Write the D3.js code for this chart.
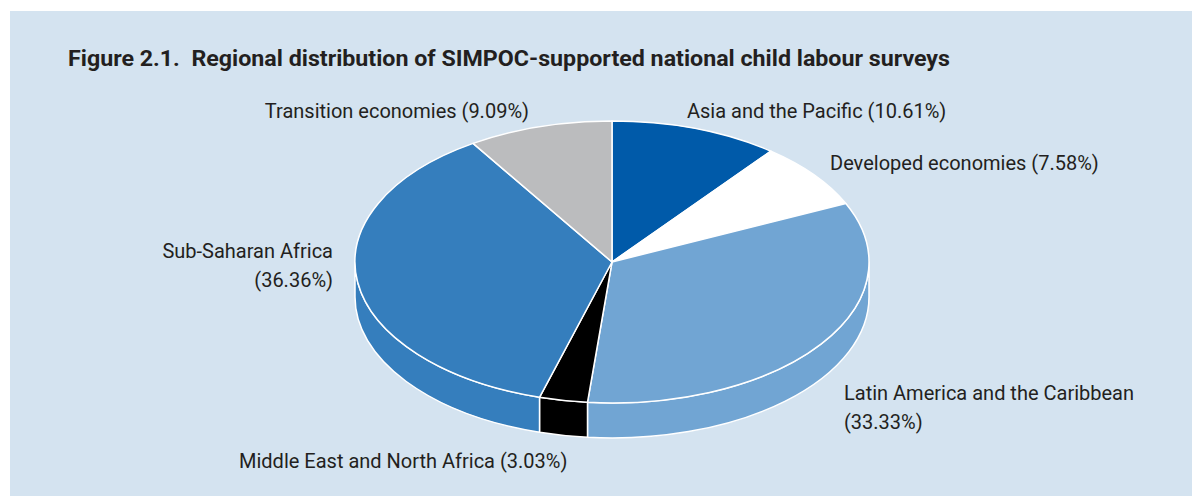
<!DOCTYPE html>
<html>
<head>
<meta charset="utf-8">
<script src="https://cdn.jsdelivr.net/npm/d3@7"></script>
<style>
  html, body { margin: 0; padding: 0; background: #fff; }
  svg text { fill: #231f20; }
</style>
</head>
<body>
<svg id="chart" width="1192" height="496"></svg>
<script>
const regions = [
  'Asia and the Pacific',
  'Developed economies',
  'Latin America and the Caribbean',
  'Middle East and North Africa',
  'Sub-Saharan Africa',
  'Transition economies'
];
const shares = [10.61, 7.58, 33.33, 3.03, 36.36, 9.09];
const colors = ['#005aa9', '#ffffff', '#71a5d3', '#000000', '#357ebd', '#bbbcbe'];
// label lines per slice
const labelLines = [
  ['Asia and the Pacific (10.61%)'],
  ['Developed economies (7.58%)'],
  ['Latin America and the Caribbean', '(33.33%)'],
  ['Middle East and North Africa (3.03%)'],
  ['Sub-Saharan Africa', '(36.36%)'],
  ['Transition economies (9.09%)']
];
const title = 'Figure 2.1.  Regional distribution of SIMPOC-supported national child labour surveys';

const W = 1192, H = 496;
const cx = 612, cy = 262, rx = 257, ry = 141, depth = 35;

const svg = d3.select('#chart');

svg.append('rect')
  .attr('x', 10).attr('y', 11)
  .attr('width', W - 10).attr('height', H - 11)
  .attr('fill', '#d4e3f0');

svg.append('text')
  .attr('x', 68).attr('y', 66)
  .attr('font-family', '"Liberation Sans Narrow", "Roboto", sans-serif')
  .attr('font-weight', 'bold')
  .attr('font-size', 22)
  .attr('textLength', 882)
  .attr('lengthAdjust', 'spacingAndGlyphs')
  .style('white-space', 'pre')
  .text(title);

const data = regions.map((r, i) => ({ region: r, value: shares[i], color: colors[i], lines: labelLines[i] }));

const pie = d3.pie().sort(null).value(d => d.value);
const arcs = pie(data);

const px = a => cx + rx * Math.sin(a);
const py = (a, dy = 0) => cy - ry * Math.cos(a) + dy;

function topPath(d) {
  const a0 = d.startAngle, a1 = d.endAngle;
  const large = a1 - a0 > Math.PI ? 1 : 0;
  return `M${cx},${cy}L${px(a0)},${py(a0)}A${rx},${ry} 0 ${large} 1 ${px(a1)},${py(a1)}Z`;
}

function sidePath(d) {
  const a0 = Math.max(d.startAngle, Math.PI / 2);
  const a1 = Math.min(d.endAngle, Math.PI * 1.5);
  if (a1 <= a0) return null;
  const large = a1 - a0 > Math.PI ? 1 : 0;
  return `M${px(a0)},${py(a0)}A${rx},${ry} 0 ${large} 1 ${px(a1)},${py(a1)}` +
    `L${px(a1)},${py(a1, depth)}A${rx},${ry} 0 ${large} 0 ${px(a0)},${py(a0, depth)}Z`;
}

const g = svg.append('g');

g.selectAll('.side')
  .data(arcs.filter(d => sidePath(d)))
  .join('path')
  .attr('class', 'side')
  .attr('d', sidePath)
  .attr('fill', d => d.data.color)
  .attr('stroke', '#fff')
  .attr('stroke-width', 1.5)
  .attr('stroke-linejoin', 'round');

g.selectAll('.top')
  .data(arcs)
  .join('path')
  .attr('class', 'top')
  .attr('d', topPath)
  .attr('fill', d => d.data.color)
  .attr('stroke', '#fff')
  .attr('stroke-width', 1.5)
  .attr('stroke-linejoin', 'round');

// label anchors: [x, y of first baseline, anchor]
const labelPos = [
  [687, 118, 'start'],
  [830, 170, 'start'],
  [844, 400, 'start'],
  [239, 468, 'start'],
  [333, 258, 'end'],
  [529, 118, 'end']
];

const labels = svg.append('g')
  .attr('font-family', '"Liberation Sans Narrow", "Roboto", sans-serif')
  .attr('font-size', 20);

labels.selectAll('text')
  .data(arcs)
  .join('text')
  .attr('x', (d, i) => labelPos[i][0])
  .attr('y', (d, i) => labelPos[i][1])
  .attr('text-anchor', (d, i) => labelPos[i][2])
  .selectAll('tspan')
  .data((d, i) => d.data.lines.map(l => ({ l, x: labelPos[i][0] })))
  .join('tspan')
  .attr('x', t => t.x)
  .attr('dy', (t, j) => j === 0 ? 0 : 28.5)
  .text(t => t.l);
</script>
</body>
</html>
